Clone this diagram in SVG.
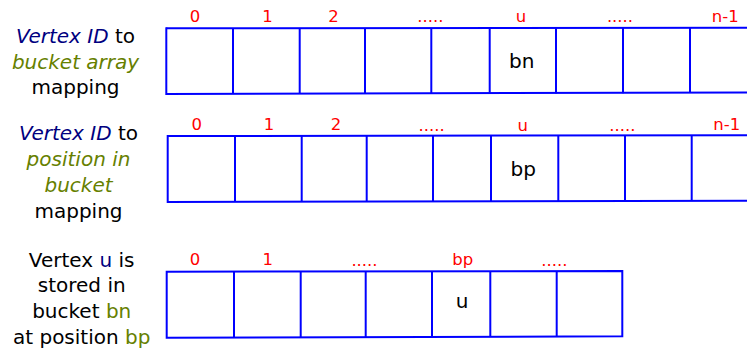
<svg xmlns="http://www.w3.org/2000/svg" width="747" height="349" viewBox="0 0 747 349">
<style>
.ln{stroke:#0000ff;stroke-width:2;fill:none}
.lb{font-family:"DejaVu Sans",sans-serif;font-size:20px;fill:#000;text-anchor:middle}
.nv{fill:#000080}
.ol{fill:#668000}
.it{font-style:italic}
.idx{font-family:"DejaVu Sans",sans-serif;font-size:16.5px;fill:#ff0000;text-anchor:middle}
.cell{font-family:"DejaVu Sans",sans-serif;font-size:20px;fill:#000;text-anchor:middle}
</style>
<rect width="747" height="349" fill="#fff"/>
<g id="label1">
<text class="lb" x="75.5" y="43"><tspan class="nv it">Vertex ID</tspan> to</text>
<text class="lb ol it" x="75.5" y="68.5">bucket array</text>
<text class="lb" x="75.5" y="94">mapping</text>
</g>
<g id="label2">
<text class="lb" x="78.5" y="140"><tspan class="nv it">Vertex ID</tspan> to</text>
<text class="lb ol it" x="78.5" y="166">position in</text>
<text class="lb ol it" x="78.5" y="192">bucket</text>
<text class="lb" x="78.5" y="218">mapping</text>
</g>
<g id="label3">
<text class="lb" x="81.7" y="267">Vertex <tspan class="nv">u</tspan> is</text>
<text class="lb" x="81.7" y="292">stored in</text>
<text class="lb" x="81.7" y="318">bucket <tspan class="ol">bn</tspan></text>
<text class="lb" x="81.7" y="343.5">at position <tspan class="ol">bp</tspan></text>
</g>
<g id="array1">
<line class="ln" x1="166.3" y1="28.3" x2="748" y2="27.7"/>
<line class="ln" x1="166.3" y1="94" x2="748" y2="92.5"/>
<line class="ln" x1="166.3" y1="27.3" x2="166.3" y2="95"/>
<line class="ln" x1="233" y1="28.3" x2="233" y2="94"/>
<line class="ln" x1="299.7" y1="28.3" x2="299.7" y2="94"/>
<line class="ln" x1="365" y1="28.3" x2="365" y2="94"/>
<line class="ln" x1="431.3" y1="28.3" x2="431.3" y2="94"/>
<line class="ln" x1="489.7" y1="28.3" x2="489.7" y2="94"/>
<line class="ln" x1="556" y1="28.3" x2="556" y2="93.5"/>
<line class="ln" x1="623" y1="28" x2="623" y2="93.3"/>
<line class="ln" x1="690" y1="28" x2="690" y2="93"/>
<text class="idx" x="195" y="21.5">0</text>
<text class="idx" x="267.5" y="21.5">1</text>
<text class="idx" x="333.5" y="21.5">2</text>
<text class="idx" x="430.3" y="22">.....</text>
<text class="idx" x="521" y="22">u</text>
<text class="idx" x="620" y="22">.....</text>
<text class="idx" x="725.2" y="21.5">n-1</text>
<text class="cell" x="521.7" y="68.3">bn</text>
</g>
<g id="array2">
<line class="ln" x1="167.7" y1="136" x2="748" y2="135.3"/>
<line class="ln" x1="167.7" y1="202" x2="748" y2="200.7"/>
<line class="ln" x1="167.7" y1="135" x2="167.7" y2="203"/>
<line class="ln" x1="235" y1="136" x2="235" y2="202"/>
<line class="ln" x1="301.7" y1="136" x2="301.7" y2="202"/>
<line class="ln" x1="366.7" y1="136" x2="366.7" y2="202"/>
<line class="ln" x1="433" y1="136" x2="433" y2="202"/>
<line class="ln" x1="491" y1="136" x2="491" y2="202"/>
<line class="ln" x1="558.3" y1="136" x2="558.3" y2="201.5"/>
<line class="ln" x1="625" y1="135.7" x2="625" y2="201.2"/>
<line class="ln" x1="691.7" y1="135.5" x2="691.7" y2="201"/>
<text class="idx" x="196.7" y="130">0</text>
<text class="idx" x="269" y="130">1</text>
<text class="idx" x="336" y="130">2</text>
<text class="idx" x="431.7" y="130.5">.....</text>
<text class="idx" x="522.7" y="130.5">u</text>
<text class="idx" x="622.3" y="130.5">.....</text>
<text class="idx" x="726.7" y="130">n-1</text>
<text class="cell" x="523.3" y="175.5">bp</text>
</g>
<g id="array3">
<path class="ln" d="M166.7 271.7 L622.3 271 L622.3 336.3 L166.7 337.7 Z"/>
<line class="ln" x1="234" y1="271.7" x2="234" y2="337.7"/>
<line class="ln" x1="300.7" y1="271.7" x2="300.7" y2="337.7"/>
<line class="ln" x1="365.7" y1="271.7" x2="365.7" y2="337.5"/>
<line class="ln" x1="432" y1="271.5" x2="432" y2="337.3"/>
<line class="ln" x1="490.3" y1="271.5" x2="490.3" y2="337"/>
<line class="ln" x1="556.7" y1="271.3" x2="556.7" y2="336.7"/>
<text class="idx" x="195" y="265">0</text>
<text class="idx" x="267.7" y="265">1</text>
<text class="idx" x="364.5" y="265.5">.....</text>
<text class="idx" x="462.7" y="264.5">bp</text>
<text class="idx" x="554.3" y="265.5">.....</text>
<text class="cell" x="462" y="307.7">u</text>
</g>
</svg>
